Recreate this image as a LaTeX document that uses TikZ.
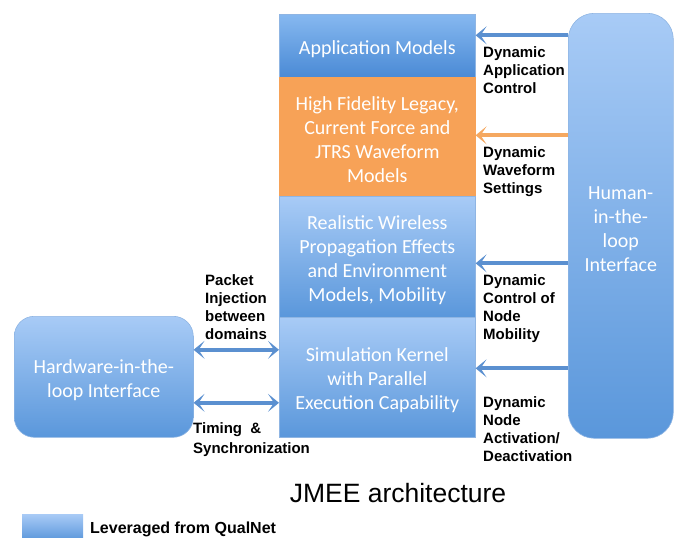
\documentclass[tikz,border=0pt]{standalone}
\usepackage{fontspec}
\setmainfont{Carlito}
\newfontfamily\lblfont{Liberation Sans}
\usetikzlibrary{arrows.meta}
\definecolor{bluetop}{HTML}{A8CBF6}
\definecolor{bluebot}{HTML}{5A97DB}
\definecolor{apptop}{HTML}{86B8F0}
\definecolor{appbot}{HTML}{4A8AD5}
\definecolor{orangefill}{HTML}{F7A257}
\definecolor{arrowblue}{HTML}{5B90D0}
\definecolor{arroworange}{HTML}{F5A860}
\definecolor{edgeblue}{HTML}{8FB5E3}
\begin{document}
\begin{tikzpicture}[x=1pt,y=-1pt,
  box/.style={draw=edgeblue, line width=0.6pt, top color=bluetop, bottom color=bluebot,
    inner sep=0pt, minimum width=196pt, anchor=north west},
  boxtext/.style={text=white, align=center, font=\fontsize{20}{24}\selectfont, inner sep=0pt, yshift=-3pt},
  lbl/.style={font=\lblfont\bfseries\fontsize{15}{18}\selectfont, align=left, inner sep=0pt, anchor=north west},
  harrow/.style={line width=4pt, draw=arrowblue, -{Stealth[length=11pt,width=18pt,inset=6pt]}},
  darrow/.style={line width=4pt, draw=arrowblue, {Stealth[length=11pt,width=18pt,inset=6pt]}-{Stealth[length=11pt,width=18pt,inset=6pt]}}
]
\useasboundingbox (0,0) rectangle (675,538);

\node[box, top color=apptop, bottom color=appbot, minimum height=63pt,
  label={[boxtext]center:Application Models}] (app) at (279,14) {};
\node[box, fill=orangefill, top color=orangefill, bottom color=orangefill, draw=orangefill, minimum height=119pt,
  label={[boxtext]center:{High Fidelity Legacy,\\Current Force and\\JTRS Waveform\\Models}}] (wave) at (279,77) {};
\node[box, minimum height=121pt,
  label={[boxtext]center:{Realistic Wireless\\Propagation Effects\\and Environment\\Models, Mobility}}] (prop) at (279,196) {};
\node[box, minimum height=120pt,
  label={[boxtext]center:{Simulation Kernel\\with Parallel\\Execution Capability}}] (sim) at (279,317) {};

\node[box, rounded corners=26pt, minimum width=105pt, minimum height=425pt,
  label={[boxtext]center:{Human-\\in-the-\\loop\\Interface}}] (human) at (568,13) {};
\node[box, rounded corners=20pt, minimum width=179pt, minimum height=121pt,
  label={[boxtext]center:{Hardware-in-the-\\loop Interface}}] (hw) at (14,316) {};

\draw[harrow] ([yshift=10.5pt]app.east -| human.west) -- ([yshift=10.5pt]app.east);
\draw[harrow, draw=arroworange] ([yshift=1.5pt]wave.east -| human.west) -- ([yshift=1.5pt]wave.east);
\draw[harrow] ([yshift=-6.5pt]prop.east -| human.west) -- ([yshift=-6.5pt]prop.east);
\draw[harrow] ([yshift=9pt]sim.east -| human.west) -- ([yshift=9pt]sim.east);

\draw[darrow] ([yshift=27pt]hw.east) -- ([yshift=27pt]hw.east -| sim.west);
\draw[darrow] ([yshift=-26pt]hw.east) -- ([yshift=-26pt]hw.east -| sim.west);

\node[lbl] (l1) at (483,46) {Dynamic\\Application\\Control};
\node[lbl] (l2) at (483,146) {Dynamic\\Waveform\\Settings};
\node[lbl] (l3) at (483,274) {Dynamic\\Control of\\Node\\Mobility};
\node[lbl] (l4) at (483,396) {Dynamic\\Node\\Activation/\\Deactivation};
\node[lbl] (l5) at (205,274) {Packet\\Injection\\between\\domains};
\node[lbl, font=\lblfont\bfseries\fontsize{15}{20}\selectfont] (l6) at (193,422) {Timing~~\&\\Synchronization};

\node[font=\lblfont\fontsize{26.5}{30}\selectfont, inner sep=0pt] (title) at (398,493) {JMEE architecture};

\node[draw=none, top color=bluetop, bottom color=bluebot, minimum width=61pt, minimum height=26pt, inner sep=0pt, anchor=north west] (leg) at (22,514) {};
\node[lbl, anchor=west, font=\lblfont\bfseries\fontsize{16}{18}\selectfont] (legtxt) at (90,529) {Leveraged from QualNet};
\end{tikzpicture}
\end{document}
